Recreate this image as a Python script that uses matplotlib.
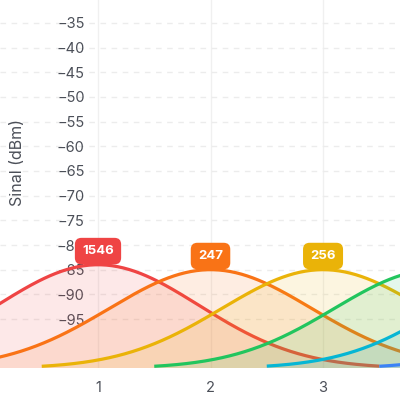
import matplotlib.pyplot as plt
import numpy             as np

plt.rcParams['font.family'] = ['Inter', 'DejaVu Sans']

# channel data
channels  = [1, 2, 3, 4, 5, 6]
signals   = [-84, -85, -85, -85, -83.5, -85]          # peak signal (dBm)
counts    = [1546, 247, 256, None, None, None]       # badge labels
colors    = ['#ef4444', '#f97316', '#eab308', '#22c55e', '#06b6d4', '#3b82f6']
yticks    = [-35, -40, -45, -50, -55, -60, -65, -70, -75, -80, -85, -90, -95]
xticks    = [1, 2, 3]

floor     = -105
halfWidth = 2.5
sigma     = 0.9

fig = plt.figure(figsize=(4, 4), dpi=100)
ax  = fig.add_axes([0, 32/400, 1, 368/400])
ax.set_xlim(0.129, 3.684)
ax.set_ylim(-104.93, -30.34)

# each dataset: fill then line, later datasets drawn over earlier ones
for i, (ch, sig, col) in enumerate(zip(channels, signals, colors)):
    x = np.linspace(ch - halfWidth, ch + halfWidth, 300)
    y = floor + (sig - floor)*np.exp(-(x - ch)**2/(2*sigma**2))
    ax.fill_between(x, floor, y, color=col, alpha=0.12, linewidth=0, zorder=3 + 2*i)
    ax.plot(x, y, color=col, linewidth=2.3, solid_capstyle='butt', zorder=4 + 2*i)

for ch, sig, cnt, col in zip(channels, signals, counts, colors):
    if cnt is None:
        continue
    ax.annotate(f"{cnt}", xy=(ch, sig), xytext=(0, 5.5), textcoords='offset points',
                ha='center', va='bottom', color='white', fontsize=9.5, fontweight='bold',
                bbox=dict(boxstyle='round,pad=0.55,rounding_size=0.5', fc=col, ec='none'),
                zorder=30)

ax.set_yticks(yticks)
ax.set_xticks(xticks)
ax.tick_params(axis='y', length=0, pad=-61, labelsize=10.5, labelcolor='#4b4f58')
ax.tick_params(axis='x', length=0, pad=9, labelsize=10.5, labelcolor='#4b4f58')
for lbl in ax.get_yticklabels():
    lbl.set_zorder(25)

ax.grid(axis='y', color='#ececec', linestyle=(0, (4, 4)), linewidth=1, zorder=0)
ax.grid(axis='x', color='#f0f0f0', linestyle='-', linewidth=1, zorder=0)
for s in ax.spines.values():
    s.set_visible(False)

fig.text(18/400, 1 - 162/400, 'Sinal (dBm)', rotation=90, ha='center', va='center',
         fontsize=11.5, color='#4b4f58')

fig.savefig('out.png', dpi=100)
